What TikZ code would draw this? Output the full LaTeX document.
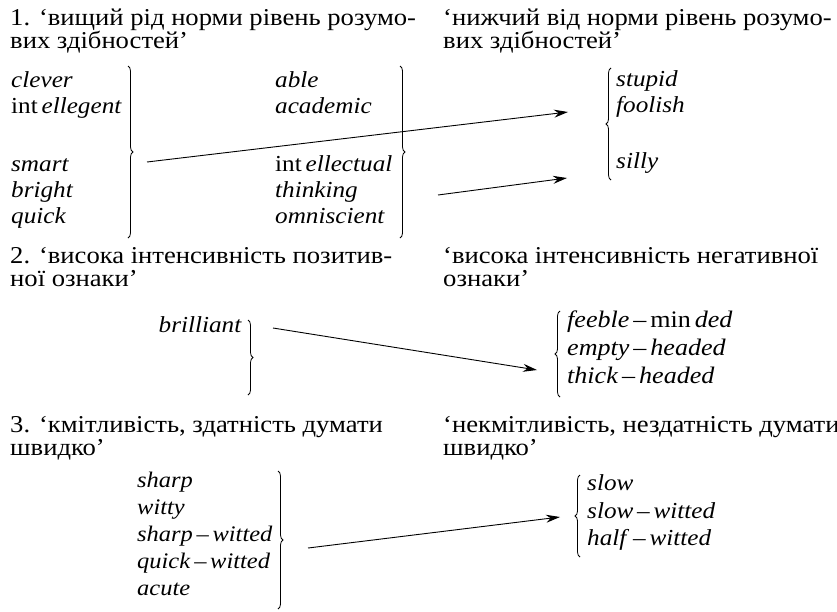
\documentclass[tikz,border=0pt]{standalone}
\usepackage{fontspec}
\setmainfont{Liberation Serif}[FakeStretch=1.1]
\usetikzlibrary{arrows.meta,decorations.pathreplacing}
\begin{document}
\begin{tikzpicture}[x=1pt,y=-1pt,
  txt/.style={anchor=base west,inner sep=0pt,font=\fontsize{22.9}{26}\selectfont},
  hdr/.style={anchor=base west,inner sep=0pt,font=\fontsize{24.2}{26}\selectfont},
  wdb/.style={txt,font=\fontsize{23.7}{26}\selectfont},
  wdc/.style={txt,font=\fontsize{22.25}{26}\selectfont},
  rb/.style={decorate,decoration={brace,amplitude=5pt},line width=0.8pt},
  arr/.style={-{Stealth[length=14pt,width=8pt]},line width=0.9pt}]
\useasboundingbox (0,0) rectangle (837,611);
% ---------- section 1 ----------
\node[hdr] (h1a) at (10,25) {1. ‘вищий рід норми рівень розумо-};
\node[hdr] (h1b) at (10,48) {вих здібностей’};
\node[hdr] (h1c) at (443,25) {‘нижчий від норми рівень розумо-};
\node[hdr] (h1d) at (443,48) {вих здібностей’};
\node[txt] (a1) at (11,87) {\textit{clever}};
\node[txt] (a2) at (11,113) {int\,\textit{ellegent}};
\node[txt] (a3) at (11,171) {\textit{smart}};
\node[txt] (a4) at (11,197) {\textit{bright}};
\node[txt] (a5) at (11,223) {\textit{quick}};
\node[txt] (b1) at (275,87) {\textit{able}};
\node[txt] (b2) at (275,113) {\textit{academic}};
\node[txt] (b3) at (275,171) {int\,\textit{ellectual}};
\node[txt] (b4) at (275,197) {\textit{thinking}};
\node[txt] (b5) at (275,223) {\textit{omniscient}};
\node[txt] (c1) at (616,86) {\textit{stupid}};
\node[txt] (c2) at (616,112) {\textit{foolish}};
\node[txt] (c3) at (616,168) {\textit{silly}};
\coordinate (braTop) at (128,66); \coordinate (braBot) at (128,238);
\coordinate (brbTop) at (400,66); \coordinate (brbBot) at (400,238);
\coordinate (brcTop) at (611,68); \coordinate (brcBot) at (611,180);
\draw[rb] (braTop) -- (braBot);
\draw[rb] (brbTop) -- (brbBot);
\draw[rb] (brcBot) -- (brcTop);
\coordinate (s1) at (147,162); \coordinate (e1) at (568,112);
\coordinate (s2) at (438,195); \coordinate (e2) at (567,178);
\draw[arr] (s1) -- (e1);
\draw[arr] (s2) -- (e2);
% ---------- section 2 ----------
\node[hdr] (h2a) at (10,263) {2. ‘висока інтенсивність позитив-};
\node[hdr] (h2b) at (10,286) {ної ознаки’};
\node[hdr] (h2c) at (443,263) {‘висока інтенсивність негативної};
\node[hdr] (h2d) at (443,286) {ознаки’};
\node[txt,anchor=base east] (d1) at (242,332) {\textit{brilliant}};
\coordinate (brdTop) at (248,320); \coordinate (brdBot) at (248,395);
\draw[rb] (brdTop) -- (brdBot);
\coordinate (breTop) at (560,311); \coordinate (breBot) at (560,397);
\draw[rb] (breBot) -- (breTop);
\node[wdb] (e1w) at (567,327) {\textit{feeble}\,–\,min\,\textit{ded}};
\node[wdb] (e2w) at (567,355) {\textit{empty}\,–\,\textit{headed}};
\node[wdb] (e3w) at (567,383) {\textit{thick}\,–\,\textit{headed}};
\coordinate (s3) at (273,328); \coordinate (e3) at (537,370);
\draw[arr] (s3) -- (e3);
% ---------- section 3 ----------
\node[hdr] (h3a) at (10,432) {3. ‘кмітливість, здатність думати};
\node[hdr] (h3b) at (10,455) {швидко’};
\node[hdr] (h3c) at (443,432) {‘некмітливість, нездатність думати};
\node[hdr] (h3d) at (443,455) {швидко’};
\node[wdc] (f1) at (137,487) {\textit{sharp}};
\node[wdc] (f2) at (137,514) {\textit{witty}};
\node[wdc] (f3) at (137,541) {\textit{sharp}\,–\,\textit{witted}};
\node[wdc] (f4) at (137,568) {\textit{quick}\,–\,\textit{witted}};
\node[wdc] (f5) at (137,595) {\textit{acute}};
\coordinate (brfTop) at (278,471); \coordinate (brfBot) at (278,609);
\draw[rb] (brfTop) -- (brfBot);
\coordinate (brgTop) at (580,475); \coordinate (brgBot) at (580,557);
\draw[rb] (brgBot) -- (brgTop);
\node[txt] (g1) at (587,490) {\textit{slow}};
\node[txt] (g2) at (587,518) {\textit{slow}\,–\,\textit{witted}};
\node[txt] (g3) at (587,545) {\textit{half}\,–\,\textit{witted}};
\coordinate (s4) at (308,548); \coordinate (e4) at (560,517);
\draw[arr] (s4) -- (e4);
\end{tikzpicture}
\end{document}
